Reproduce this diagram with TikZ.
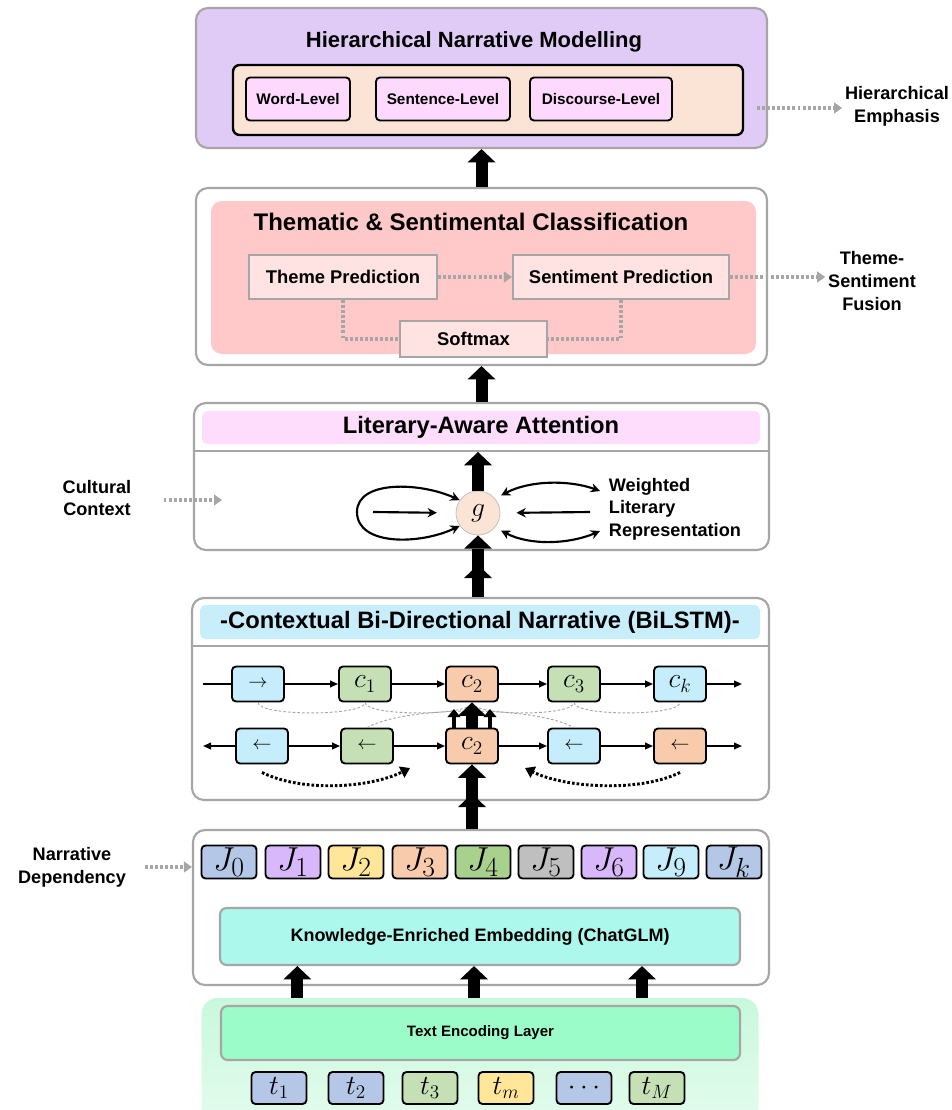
\documentclass[tikz,border=0pt]{standalone}
\usepackage[no-math]{fontspec}
\setmainfont{Liberation Sans}
\usetikzlibrary{arrows.meta}

\definecolor{lgray}{HTML}{A6A6A6}
\definecolor{purpBg}{HTML}{E0CAF6}
\definecolor{peachIn}{HTML}{FBE4D5}
\definecolor{pinkSub}{HTML}{FED9FE}
\definecolor{redBg}{HTML}{FFC9C9}
\definecolor{themeF}{HTML}{FFE3E3}
\definecolor{laaHead}{HTML}{FDDCFC}
\definecolor{bilHead}{HTML}{C8EEFC}
\definecolor{cBlue}{HTML}{C5EDFB}
\definecolor{cGreen}{HTML}{C5E0B4}
\definecolor{cOrange}{HTML}{F8CBAD}
\definecolor{jBlue}{HTML}{B4C7E7}
\definecolor{jLav}{HTML}{D8B8FA}
\definecolor{jYel}{HTML}{FFE699}
\definecolor{jGreen}{HTML}{A9D18E}
\definecolor{jGray}{HTML}{BFBFBF}
\definecolor{knowF}{HTML}{ACF8EC}
\definecolor{teBgF}{HTML}{C8F8DC}
\definecolor{teBox}{HTML}{9CFCC9}

\def\pxu{0.75pt}

\tikzset{
  frame/.style={draw=lgray, line width=1.6pt, rounded corners=9pt, inner sep=0pt},
  tag/.style={draw=black, line width=1.4pt, rounded corners=3pt, inner sep=0pt},
  lvl/.style={tag, fill=pinkSub, minimum height=43*\pxu, font=\fontsize{11.5}{13}\selectfont\bfseries},
  pbox/.style={draw=lgray, line width=1.6pt, fill=themeF, inner sep=0pt, minimum height=44*\pxu, font=\fontsize{13.8}{15}\selectfont\bfseries},
  cell/.style={tag, minimum width=52*\pxu, minimum height=35*\pxu, font=\fontsize{20.74}{22}\selectfont},
  arrcell/.style={cell, font=\fontsize{14.4}{16}\selectfont},
  jbox/.style={tag, minimum width=55*\pxu, minimum height=33*\pxu, font=\fontsize{24.88}{26}\selectfont},
  tbox/.style={tag, minimum width=55*\pxu, minimum height=32*\pxu, font=\fontsize{20.74}{22}\selectfont},
  head/.style={font=\fontsize{17.8}{20}\selectfont\bfseries},
  side/.style={align=center, inner sep=2pt, font=\fontsize{13.6}{17}\selectfont\bfseries},
  bigarr/.style={line width=9pt, -{Triangle[width=21pt,length=10pt,line width=0pt]}},
  smallarr/.style={line width=3.5pt, -{Triangle[width=10pt,length=6pt,line width=0pt]}},
  dotln/.style={draw=lgray, line width=2.3pt, dash pattern=on 2.2pt off 1.6pt},
  dotarr/.style={dotln, -{Triangle[width=8pt,length=6pt]}},
  thinarc/.style={draw=lgray, line width=0.7pt, dash pattern=on 2pt off 1.5pt},
  blkdot/.style={line width=2.2pt, dash pattern=on 2pt off 1.5pt, -{Triangle[width=9pt,length=7pt]}},
  lnk/.style={line width=1.3pt, -{Triangle[width=5pt,length=6pt]}},
  curv/.style={line width=1.6pt, -{Stealth[width=7pt,length=7pt]}},
  curv2/.style={line width=1.6pt, {Stealth[width=7pt,length=7pt]}-{Stealth[width=7pt,length=7pt]}},
}

\begin{document}
\begin{tikzpicture}[x=0.75pt,y=-0.75pt]
  \useasboundingbox (0,0) rectangle (952,1110);

  % hierarchical narrative modelling
  \node[frame, fill=purpBg, minimum width=571*\pxu, minimum height=140*\pxu] (hnm) at (481.5,78) {};
  \node[font=\fontsize{16.5}{18}\selectfont\bfseries] (hnmT) at (474,42) {Hierarchical Narrative Modelling};
  \node[draw=black, line width=1.8pt, rounded corners=5pt, fill=peachIn, minimum width=510*\pxu, minimum height=70*\pxu] (hnmIn) at (488,100) {};
  \node[lvl, minimum width=104*\pxu] (word) at (298,99) {Word-Level};
  \node[lvl, minimum width=134*\pxu] (sent) at (443,99) {Sentence-Level};
  \node[lvl, minimum width=142*\pxu] (disc) at (601,99) {Discourse-Level};
  \node[side] (hemph) at (897,106) {Hierarchical\\Emphasis};
  \coordinate (hemphS) at (757,108);
  \draw[dotarr] (hemphS) -- (hemphS -| hemph.west);

  % thematic & sentimental classification
  \node[frame, fill=white, minimum width=571*\pxu, minimum height=177*\pxu] (tsc) at (481.5,276.5) {};
  \node[fill=redBg, rounded corners=8pt, minimum width=545*\pxu, minimum height=153*\pxu] (tscIn) at (483.5,277.5) {};
  \node[font=\fontsize{18}{20}\selectfont\bfseries] (tscT) at (471,222) {Thematic \& Sentimental Classification};
  \node[pbox, minimum width=188*\pxu] (theme) at (343,277) {Theme Prediction};
  \node[pbox, minimum width=216*\pxu] (senti) at (621,277) {Sentiment Prediction};
  \node[pbox, minimum width=147*\pxu, minimum height=36*\pxu] (soft) at (473.5,339) {Softmax};
  \draw[dotarr] (theme) -- (senti);
  \draw[dotln] (theme.south) |- (soft.west);
  \draw[dotln] (senti.south) |- (soft.east);
  \node[side] (tsf) at (872,281) {Theme-\\Sentiment\\Fusion};
  \draw[dotarr] (senti.east) -- (senti.east -| tsf.west);
  \draw[bigarr] (tsc.north) -- (hnm.south);

  % literary-aware attention
  \node[frame, fill=white, minimum width=575*\pxu, minimum height=147*\pxu] (laa) at (481.5,476.5) {};
  \node[head, fill=laaHead, rounded corners=4pt, minimum width=558*\pxu, minimum height=33*\pxu] (laaH) at (481,427.5) {Literary-Aware Attention};
  \draw[lgray, line width=2.2pt] (laa.west |- 0,451) -- (laa.east |- 0,451);
  \coordinate (laaD) at (478,452);
  \node[circle, draw=lgray!70, line width=0.6pt, fill=peachIn, minimum size=44*\pxu, inner sep=0pt, font=\fontsize{20.74}{22}\selectfont] (g) at (478,513) {$g$};
  \draw[bigarr] (g.north) -- (laaD);
  \draw[bigarr] (laa.north) -- (tsc.south);
  % loop on the left
  \draw[curv2] (g.145) .. controls (420,482) and (357,480) .. (357,512) .. controls (357,546) and (420,545) .. (g.215);
  \coordinate (gin) at (373,512);
  \draw[curv, shorten >=14pt] (gin) -- (g.west);
  % weighted representation side
  \coordinate (wr1) at (600,491);
  \coordinate (wr2) at (590,512);
  \coordinate (wr3) at (600,531);
  \draw[curv2, shorten <=5pt] (g.40) .. controls (530,480) and (570,480) .. (wr1);
  \draw[curv, shorten >=12pt] (wr2) -- (g.east);
  \draw[curv2, shorten <=5pt] (g.-40) .. controls (530,546) and (570,544) .. (wr3);
  \node[side, align=left, anchor=west] (wlr) at (606,509) {Weighted\\Literary\\Representation};
  \node[side] (cult) at (97,498) {Cultural\\Context};
  \coordinate (cultE) at (222,500);
  \draw[dotarr, shorten <=22pt] (cult.east |- cultE) -- (cultE);

  % bi-directional narrative
  \node[frame, fill=white, minimum width=577*\pxu, minimum height=202*\pxu] (bil) at (480.5,699) {};
  \node[head, fill=bilHead, rounded corners=4pt, minimum width=560*\pxu, minimum height=34*\pxu] (bilH) at (480,622) {-Contextual Bi-Directional Narrative (BiLSTM)-};
  \draw[lgray, line width=2.2pt] (bil.west |- 0,646) -- (bil.east |- 0,646);
  \draw[bigarr] (g.south |- bil.north) -- (g.south);
  \draw[bigarr, shorten >=22pt] (g.south |- bil.north) -- (g.south);

  \node[arrcell, fill=cBlue] (a1) at (258,684) {$\rightarrow$};
  \node[cell, fill=cGreen] (a2) at (365,684) {$c_1$};
  \node[cell, fill=cOrange] (a3) at (472,684) {$c_2$};
  \node[cell, fill=cGreen] (a4) at (574,684) {$c_3$};
  \node[cell, fill=cBlue] (a5) at (680,684) {$c_k$};
  \coordinate (aL) at (203,684);
  \coordinate (aR) at (742,684);
  \draw[line width=1.3pt] (aL) -- (a1);
  \draw[lnk] (a1) -- (a2);
  \draw[lnk] (a2) -- (a3);
  \draw[lnk] (a3) -- (a4);
  \draw[lnk] (a4) -- (a5);
  \draw[lnk] (a5) -- (aR);

  \node[arrcell, fill=cBlue] (b1) at (262,746) {$\leftarrow$};
  \node[arrcell, fill=cGreen] (b2) at (367,746) {$\leftarrow$};
  \node[cell, fill=cOrange] (b3) at (472,746) {$c_2$};
  \node[arrcell, fill=cBlue] (b4) at (574,746) {$\leftarrow$};
  \node[arrcell, fill=cOrange] (b5) at (680,746) {$\leftarrow$};
  \coordinate (bL) at (203,746);
  \coordinate (bR) at (742,746);
  \draw[lnk] (b1) -- (bL);
  \draw[lnk] (b1) -- (b2);
  \draw[lnk] (b2) -- (b3);
  \draw[lnk] (b3) -- (b4);
  \draw[lnk] (b4) -- (b5);
  \draw[lnk] (b5) -- (bR);

  \draw[thinarc] (a1.south) .. controls +(0,14) and +(0,14) .. (a2.south);
  \draw[thinarc] (a2.south) .. controls +(0,14) and +(0,14) .. (a3.south);
  \draw[thinarc] (a3.south) .. controls +(0,14) and +(0,14) .. (a4.south);
  \draw[thinarc] (a4.south) .. controls +(0,14) and +(0,14) .. (a5.south);
  \draw[thinarc] (b2.north) .. controls +(40,-22) and +(-40,-22) .. (b4.north);

  \draw[bigarr] (b3.north) -- (a3.south);
  \draw[smallarr, shorten >=5pt] ([xshift=-13.5pt]b3.north) -- ([xshift=-13.5pt]a3.south);
  \draw[smallarr, shorten >=5pt] ([xshift=13.5pt]b3.north) -- ([xshift=13.5pt]a3.south);

  \coordinate (dl) at (410,768);
  \coordinate (dr) at (525,768);
  \draw[blkdot] ([yshift=-6pt]b1.south) .. controls +(40,20) and +(-40,20) .. (dl);
  \draw[blkdot] ([yshift=-6pt]b5.south) .. controls +(-40,20) and +(40,20) .. (dr);

  % knowledge-enriched embedding
  \node[frame, fill=white, minimum width=576*\pxu, minimum height=155*\pxu] (emb) at (481,907.5) {};
  \node[jbox, fill=jBlue] (J0) at (229,862) {$J_0$};
  \node[jbox, fill=jLav] (J1) at (293,862) {$J_1$};
  \node[jbox, fill=jYel] (J2) at (356,862) {$J_2$};
  \node[jbox, fill=cOrange] (J3) at (420,862) {$J_3$};
  \node[jbox, fill=jGreen] (J4) at (483,862) {$J_4$};
  \node[jbox, fill=jGray] (J5) at (546,862) {$J_5$};
  \node[jbox, fill=jLav] (J6) at (609,862) {$J_6$};
  \node[jbox, fill=cBlue] (J9) at (671,862) {$J_9$};
  \node[jbox, fill=jBlue] (Jk) at (734,862) {$J_k$};
  \node[draw=lgray, line width=1.6pt, rounded corners=5pt, fill=knowF, minimum width=520*\pxu, minimum height=57*\pxu, font=\fontsize{13.5}{15}\selectfont\bfseries] (know) at (480,936.5) {Knowledge-Enriched Embedding (ChatGLM)};
  \node[side] (ndep) at (72,867) {Narrative\\Dependency};
  \draw[dotarr, shorten <=12pt] (ndep.east) -- (ndep.east -| emb.west);
  \draw[bigarr] (b3.south |- emb.north) -- (b3.south);
  \draw[bigarr, shorten >=22pt] (b3.south |- emb.north) -- (b3.south);

  % text encoding layer
  \node[rounded corners=12pt, top color=teBgF, bottom color=teBgF!50!white, minimum width=557*\pxu, minimum height=124*\pxu] (teBg) at (480,1060) {};
  \node[draw=lgray, line width=1.6pt, rounded corners=5pt, fill=teBox, minimum width=519*\pxu, minimum height=54*\pxu, font=\fontsize{11.3}{13}\selectfont\bfseries] (tenc) at (480.5,1033) {Text Encoding Layer};
  \node[tbox, fill=jBlue] (t1) at (279,1088) {$t_1$};
  \node[tbox, fill=jBlue] (t2) at (356,1088) {$t_2$};
  \node[tbox, fill=cGreen] (t3) at (430,1088) {$t_3$};
  \node[tbox, fill=jYel] (tm) at (506,1088) {$t_m$};
  \node[tbox, fill=jBlue] (tdots) at (584,1088) {$\cdots$};
  \node[tbox, fill=cGreen] (tM) at (657,1088) {$t_M$};
  \draw[bigarr] ([xshift=-137pt]teBg.north) -- ([xshift=-137pt]know.south);
  \draw[bigarr] ([xshift=-4.5pt]teBg.north) -- ([xshift=-4.5pt]know.south);
  \draw[bigarr] ([xshift=121.5pt]teBg.north) -- ([xshift=121.5pt]know.south);

\end{tikzpicture}
\end{document}
